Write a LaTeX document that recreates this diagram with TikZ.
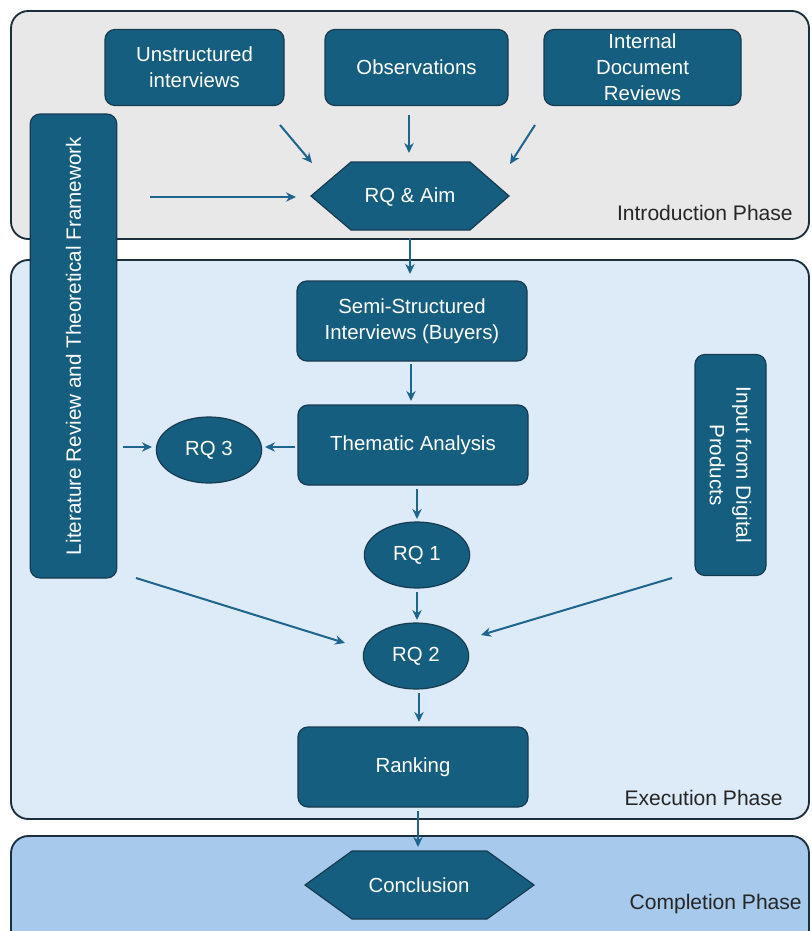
\documentclass[tikz,border=0pt]{standalone}
\usepackage{fontspec}
\setmainfont{Liberation Sans}
\usetikzlibrary{shapes.geometric,arrows.meta,calc}

\definecolor{boxfill}{HTML}{165E80}
\definecolor{boxline}{HTML}{163A50}
\definecolor{arrowc}{HTML}{1E648C}
\definecolor{phaseline}{HTML}{1C2F3C}
\definecolor{introfill}{HTML}{E8E8E8}
\definecolor{execfill}{HTML}{DDEAF7}
\definecolor{complfill}{HTML}{A6C9EC}
\definecolor{labelc}{HTML}{262626}

\begin{document}
\begin{tikzpicture}[x=0.75pt,y=-0.75pt,
  phase/.style={draw=phaseline, line width=1.4pt, rounded corners=13pt},
  nodefont/.style={font=\fontsize{15.3}{19.5}\selectfont},
  box/.style={nodefont, draw=boxline, fill=boxfill, line width=0.9pt,
    rounded corners=7.5pt, text=white, align=center, inner sep=0pt},
  vbox/.style={box, font=\fontsize{15.5}{20}\selectfont},
  oval/.style={nodefont, ellipse, draw=boxline, fill=boxfill, line width=0.9pt,
    text=white, inner sep=0pt, minimum width=79pt, minimum height=49.5pt},
  hexfill/.style={draw=boxline, fill=boxfill, line width=0.9pt, line join=miter},
  hextext/.style={nodefont, text=white, inner sep=0pt},
  arr/.style={draw=arrowc, line width=1.5pt, -{Stealth[length=7.5pt,width=7pt]}},
  phaselabel/.style={anchor=east, text=labelc, font=\fontsize{15.8}{18}\selectfont, inner sep=0pt}]

\useasboundingbox (0,0) rectangle (812,931);
\clip (0,0) rectangle (812,931);

% phase panels
\draw[phase, fill=introfill] (11,11) rectangle (809,239);
\draw[phase, fill=execfill]  (11,260) rectangle (809,819);
\draw[phase, fill=complfill] (11,836) rectangle (809,960);

\node[phaselabel] (lintro) at (793,213) {Introduction Phase};
\node[phaselabel] (lexec)  at (783,798) {Execution Phase};
\node[phaselabel] (lcompl) at (802,904) {Completion Phase};

% introduction inputs
\node[box, minimum width=134.25pt, minimum height=57pt] (u) at (194.5,67.5) {Unstructured\\interviews};
\node[box, minimum width=137.25pt, minimum height=57pt] (o) at (416.5,67.5) {Observations};
\node[box, minimum width=147.75pt, minimum height=57pt] (i) at (642.5,67.5) {Internal\\Document\\Reviews};

% research question and aim
\path[hexfill] (311,196) -- (351,162) -- (470,162) -- (509,196) -- (470,230) -- (351,230) -- cycle;
\node[hextext] (aim) at (410,197) {RQ \& Aim};

% side columns
\node[vbox, rotate=90, minimum width=348pt, minimum height=65pt] (lit) at (73.5,346)
  {Literature Review and Theoretical Framework};
\node[vbox, rotate=-90, minimum width=165.75pt, minimum height=53.25pt] (inp) at (730.5,465)
  {Input from Digital\\Products};

% execution steps
\node[box, minimum width=172.5pt, minimum height=60pt] (semi) at (412,321) {Semi-Structured\\Interviews (Buyers)};
\node[box, minimum width=172.5pt, minimum height=60pt] (them) at (413,445) {Thematic Analysis};
\node[oval] (rq3) at (209,450) {RQ 3};
\node[oval] (rq1) at (417,555) {RQ 1};
\node[oval] (rq2) at (416,656) {RQ 2};
\node[box, minimum width=172.5pt, minimum height=60pt] (rank) at (413,767) {Ranking};

% conclusion
\path[hexfill] (305,885) -- (352,851) -- (487,851) -- (534,885) -- (487,919) -- (352,919) -- cycle;
\node[hextext] (concl) at (419,885) {Conclusion};

% connectors
\draw[arr] ($(u)+(85.5,57.5)$) -- ($(aim)+(-98,-34)$);
\draw[arr] ($(o)+(-7.5,47.5)$) -- ($(aim)+(-1,-44)$);
\draw[arr] ($(i)+(-107.5,57.5)$) -- ($(aim)+(100,-33)$);
\draw[arr] ($(lit)+(76.5,-149)$) -- ($(aim)+(-114,0)$);
\draw[arr] ($(aim)+(0,41)$) -- ($(semi)+(-2,-47)$);
\draw[arr] ($(semi)+(-1,43)$) -- ($(them)+(-2,-44)$);
\draw[arr] ($(them)+(-118,2)$) -- ($(rq3)+(56,-3)$);
\draw[arr] ($(lit)+(49.5,101)$) -- ($(rq3)+(-57,-3)$);
\draw[arr] ($(them)+(4,44)$) -- ($(rq1)+(0,-36)$);
\draw[arr] ($(rq1)+(0,37)$) -- ($(rq2)+(1,-36)$);
\draw[arr] ($(lit)+(62.5,232)$) -- ($(rq2)+(-71,-13)$);
\draw[arr] ($(inp)+(-58.5,113)$) -- ($(rq2)+(65,-21)$);
\draw[arr] ($(rq2)+(3,37)$) -- ($(rank)+(6,-45)$);
\draw[arr] ($(rank)+(5,44)$) -- ($(concl)+(-1,-38)$);
\end{tikzpicture}
\end{document}
